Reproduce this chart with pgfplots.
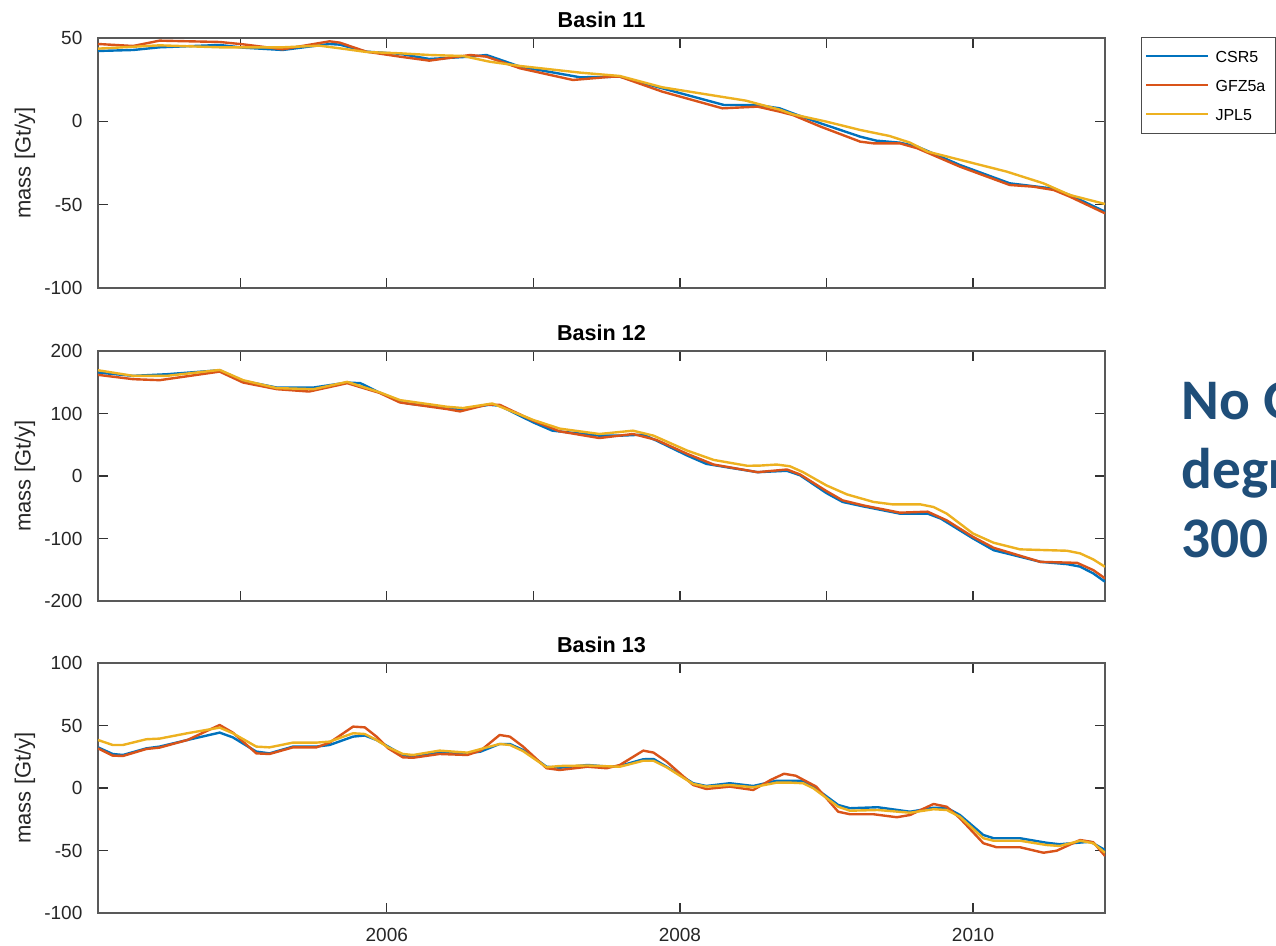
\documentclass[border=0pt]{standalone}
\usepackage{fontspec}
\setmainfont{Liberation Sans}
\newfontfamily\slidefont{Carlito}
\usepackage{pgfplots}
\pgfplotsset{compat=1.18}

\definecolor{csr}{HTML}{0072BD}
\definecolor{gfz}{HTML}{D95319}
\definecolor{jpl}{HTML}{EDB120}
\definecolor{slideblue}{HTML}{1F4E79}

\pgfplotsset{
  basin/.style={
    scale only axis, width=503.5pt, height=125pt, anchor=south west,
    xmin=2004.03, xmax=2010.90,
    axis line style={draw=black!65, line width=0.6pt},
    major tick style={draw=black!80, line width=0.6pt},
    major tick length=5pt,
    tick align=inside,
    xtick pos=both, ytick pos=both,
    every tick label/.append style={font=\fontsize{9.5}{11}\selectfont, text=black!85},
    yticklabel style={xshift=-4.3pt},
    xticklabel style={yshift=-4.3pt},
    ylabel={mass [Gt/y]},
    every axis y label/.style={at={(axis description cs:-0.0725,0.5)}, rotate=90,
      anchor=center, font=\fontsize{11}{13}\selectfont, text=black!85},
    every axis title/.style={at={(axis description cs:0.5,1)}, anchor=base, yshift=5pt,
      font=\bfseries\fontsize{10.8}{13}\selectfont},
    every axis plot/.append style={line width=1.2pt, line join=round},
  },
}

\begin{document}
\begin{tikzpicture}
\useasboundingbox (0pt,0pt) rectangle (638pt,473pt);
\clip (0pt,0pt) rectangle (638pt,473pt);

% ---------------- Basin 11 ----------------
\begin{axis}[basin, at={(49pt,329pt)},
  title={Basin 11},
  ymin=-100, ymax=50,
  ytick={-100,-50,0,50}, yticklabels={-100,-50,0,50},
  xtick={2005,2006,2007,2008,2009,2010}, xticklabel=\empty,
  legend style={at={(axis description cs:1.0357,1.004)}, anchor=north west,
    draw=black!70, line width=0.4pt, inner xsep=2pt, inner ysep=2.25pt,
    row sep=0pt, font=\fontsize{8}{9}\selectfont,
    nodes={inner xsep=3pt, inner ysep=4pt, text height=6.5pt, text depth=0pt},
    cells={anchor=west}},
  legend image code/.code={\draw[#1, line width=1.1pt] (0pt,0pt) -- (31pt,0pt);},
]
\addplot[csr] coordinates {
(2004.03,42.2) (2004.27,42.8) (2004.45,44.4) (2004.86,45.8) (2005.02,44.2)
(2005.29,42.8) (2005.61,46.4) (2005.68,46.0) (2005.86,41.8) (2006.09,40.5)
(2006.29,37.4) (2006.57,38.8) (2006.68,39.8) (2006.91,32.8) (2007.32,26.4)
(2007.59,26.8) (2007.88,19.8) (2008.30,9.8) (2008.53,9.8) (2008.68,7.8)
(2008.77,4.8) (2008.96,-1.2) (2009.23,-9.2) (2009.34,-11.6) (2009.50,-12.8)
(2009.62,-15.2) (2009.91,-26.2) (2010.25,-37.2) (2010.53,-40.2) (2010.66,-44.2)
(2010.90,-54.2)};
\addlegendentry{CSR5}
\addplot[gfz] coordinates {
(2004.03,46.4) (2004.27,45.2) (2004.45,48.4) (2004.86,47.6) (2005.02,46.2)
(2005.29,43.2) (2005.61,48.0) (2005.68,47.2) (2005.86,41.8) (2006.09,38.8)
(2006.29,36.4) (2006.57,39.8) (2006.68,38.8) (2006.91,31.8) (2007.27,24.8)
(2007.54,26.8) (2007.59,26.8) (2007.88,17.8) (2008.29,7.8) (2008.53,8.8)
(2008.68,5.8) (2008.77,3.8) (2008.96,-3.2) (2009.23,-12.2) (2009.32,-13.2)
(2009.50,-13.2) (2009.62,-16.2) (2009.91,-27.2) (2010.25,-38.2) (2010.41,-39.2)
(2010.55,-41.2) (2010.66,-45.2) (2010.90,-55.2)};
\addlegendentry{GFZ5a}
\addplot[jpl] coordinates {
(2004.03,43.6) (2004.45,45.6) (2004.86,44.4) (2005.29,44.4) (2005.54,45.4)
(2005.68,43.8) (2005.86,41.6) (2006.09,40.8) (2006.29,39.8) (2006.52,39.2)
(2006.70,35.8) (2006.91,33.2) (2007.32,29.2) (2007.59,27.2) (2007.88,20.4)
(2008.45,12.4) (2008.68,7.0) (2008.77,4.2) (2009.00,-0.2) (2009.23,-5.2)
(2009.43,-8.8) (2009.57,-12.8) (2009.69,-18.2) (2009.96,-24.2) (2010.23,-30.2)
(2010.48,-37.2) (2010.66,-44.2) (2010.90,-49.6)};
\addlegendentry{JPL5}
\end{axis}

% ---------------- Basin 12 ----------------
\begin{axis}[basin, at={(49pt,172.5pt)},
  title={Basin 12},
  ymin=-200, ymax=200,
  ytick={-200,-100,0,100,200}, yticklabels={-200,-100,0,100,200},
  xtick={2005,2006,2007,2008,2009,2010}, xticklabel=\empty,
]
\addplot[csr] coordinates {
(2004.03,165.4) (2004.27,160.2) (2004.50,162.8) (2004.86,169.2) (2005.02,152.2)
(2005.25,141.5) (2005.50,141.5) (2005.73,149.5) (2005.82,148.5) (2005.95,133.5)
(2006.09,120.3) (2006.14,116.0) (2006.41,108.7) (2006.50,107.1) (2006.70,113.9)
(2006.77,112.4) (2007.00,85.7) (2007.13,72.5) (2007.45,64.5) (2007.59,64.5)
(2007.75,66.1) (2007.84,56.6) (2008.05,32.7) (2008.18,19.4) (2008.32,14.0)
(2008.53,6.1) (2008.73,8.3) (2008.82,1.1) (2009.00,-27.4) (2009.11,-41.5)
(2009.25,-48.6) (2009.50,-60.2) (2009.69,-60.2) (2009.78,-68.2) (2010.00,-100.0)
(2010.14,-118.7) (2010.46,-137.4) (2010.64,-141.0) (2010.73,-145.0) (2010.82,-155.9)
(2010.90,-169.2)};
\addplot[gfz] coordinates {
(2004.03,161.8) (2004.27,154.9) (2004.45,153.3) (2004.86,167.0) (2005.02,149.5)
(2005.25,138.9) (2005.47,135.1) (2005.73,148.5) (2005.95,133.0) (2006.09,117.6)
(2006.41,107.1) (2006.50,103.3) (2006.68,113.9) (2006.77,113.9) (2007.00,88.4)
(2007.18,71.4) (2007.45,60.7) (2007.68,67.2) (2007.84,57.7) (2008.05,35.4)
(2008.23,18.3) (2008.53,6.1) (2008.73,10.4) (2008.82,2.4) (2009.00,-24.2)
(2009.11,-39.0) (2009.25,-47.0) (2009.50,-58.7) (2009.69,-57.1) (2009.82,-71.0)
(2010.00,-97.5) (2010.14,-114.9) (2010.46,-137.4) (2010.71,-139.0) (2010.82,-150.6)
(2010.90,-163.8)};
\addplot[jpl] coordinates {
(2004.03,169.2) (2004.27,160.2) (2004.50,160.2) (2004.86,169.7) (2005.02,153.3)
(2005.25,140.6) (2005.50,138.9) (2005.73,150.6) (2005.95,134.0) (2006.09,121.4)
(2006.41,110.8) (2006.52,108.7) (2006.72,116.0) (2007.00,89.6) (2007.18,75.8)
(2007.45,67.2) (2007.68,72.5) (2007.82,64.5) (2008.05,40.6) (2008.23,25.7)
(2008.46,16.3) (2008.55,16.7) (2008.66,18.3) (2008.75,15.6) (2008.84,6.1)
(2009.00,-15.1) (2009.14,-29.5) (2009.32,-41.5) (2009.45,-45.4) (2009.64,-45.4)
(2009.73,-49.6) (2009.82,-60.2) (2010.00,-92.1) (2010.14,-106.8) (2010.32,-117.4)
(2010.64,-119.6) (2010.73,-123.8) (2010.82,-133.5) (2010.90,-145.3)};
\end{axis}

% ---------------- Basin 13 ----------------
\begin{axis}[basin, at={(49pt,16.5pt)},
  title={Basin 13},
  ymin=-100, ymax=100,
  ytick={-100,-50,0,50,100}, yticklabels={-100,-50,0,50,100},
  xtick={2006,2008,2010}, xticklabels={2006,2008,2010},
]
\addplot[csr] coordinates {
(2004.03,32.5) (2004.13,27.2) (2004.20,26.4) (2004.36,31.7) (2004.45,33.1)
(2004.64,38.4) (2004.86,44.3) (2004.95,40.5) (2005.11,29.1) (2005.20,27.7)
(2005.36,33.1) (2005.52,33.1) (2005.61,34.4) (2005.77,41.1) (2005.85,42.0)
(2005.93,38.4) (2006.01,33.1) (2006.11,26.4) (2006.18,25.0) (2006.36,28.3)
(2006.55,27.7) (2006.64,29.1) (2006.77,35.2) (2006.84,35.2) (2006.93,30.4)
(2007.09,17.0) (2007.18,16.2) (2007.37,18.4) (2007.52,17.0) (2007.59,17.6)
(2007.75,23.0) (2007.82,23.2) (2007.91,17.0) (2008.09,3.8) (2008.18,1.6)
(2008.34,3.8) (2008.50,1.6) (2008.66,5.8) (2008.84,5.8) (2008.91,1.1)
(2009.08,-13.6) (2009.16,-16.2) (2009.35,-15.4) (2009.57,-19.0) (2009.73,-15.8)
(2009.82,-15.8) (2009.91,-21.6) (2010.07,-37.6) (2010.14,-40.2) (2010.32,-40.2)
(2010.50,-43.8) (2010.59,-45.0) (2010.80,-43.0) (2010.90,-49.6)};
\addplot[gfz] coordinates {
(2004.03,31.7) (2004.13,25.9) (2004.20,25.6) (2004.36,31.2) (2004.45,32.3)
(2004.64,38.4) (2004.86,50.4) (2004.95,44.3) (2005.11,27.7) (2005.20,27.2)
(2005.36,32.5) (2005.52,32.5) (2005.61,36.3) (2005.77,49.1) (2005.85,48.5)
(2005.93,41.1) (2006.01,31.7) (2006.11,24.5) (2006.18,24.2) (2006.36,27.2)
(2006.55,26.4) (2006.64,29.9) (2006.77,42.4) (2006.84,41.1) (2006.93,33.1)
(2007.09,15.8) (2007.18,14.4) (2007.37,17.0) (2007.50,15.8) (2007.59,18.4)
(2007.75,29.9) (2007.82,28.3) (2007.91,21.0) (2008.09,2.4) (2008.18,-0.8)
(2008.34,1.1) (2008.50,-1.6) (2008.62,6.5) (2008.71,11.4) (2008.79,9.8)
(2008.93,1.1) (2009.08,-19.0) (2009.16,-21.0) (2009.32,-21.0) (2009.48,-23.4)
(2009.57,-21.6) (2009.73,-12.8) (2009.82,-15.0) (2009.91,-24.2) (2010.07,-44.2)
(2010.16,-47.4) (2010.32,-47.4) (2010.48,-51.8) (2010.57,-50.2) (2010.73,-41.6)
(2010.82,-43.4) (2010.90,-54.4)};
\addplot[jpl] coordinates {
(2004.03,38.4) (2004.13,34.4) (2004.20,34.4) (2004.36,39.0) (2004.45,39.5)
(2004.64,43.8) (2004.86,48.3) (2004.95,43.8) (2005.11,33.1) (2005.20,32.5)
(2005.36,36.3) (2005.52,36.3) (2005.61,37.1) (2005.77,43.8) (2005.85,43.2)
(2005.93,38.4) (2006.01,32.5) (2006.11,27.2) (2006.18,26.4) (2006.36,29.9)
(2006.55,28.3) (2006.77,35.2) (2006.84,34.4) (2006.93,29.5) (2007.09,16.6)
(2007.18,17.6) (2007.37,18.0) (2007.59,17.0) (2007.75,21.8) (2007.82,21.8)
(2007.91,16.5) (2008.09,3.2) (2008.18,1.1) (2008.34,2.4) (2008.50,0.6)
(2008.66,4.3) (2008.75,4.3) (2008.84,3.8) (2008.91,-0.2) (2009.08,-15.0)
(2009.16,-18.2) (2009.35,-17.6) (2009.57,-19.8) (2009.73,-17.0) (2009.82,-17.6)
(2009.91,-23.0) (2010.07,-40.2) (2010.14,-42.2) (2010.32,-42.2) (2010.50,-45.6)
(2010.59,-46.4) (2010.73,-42.2) (2010.82,-44.2) (2010.90,-51.8)};
\end{axis}

% slide caption running off the right edge (base = last line)
\node[anchor=base west, inner sep=0pt, align=left, text=slideblue,
  font=\slidefont\bfseries\fontsize{28.7}{34.5}\selectfont]
  at (590.5pt,194pt) {No GIA\\degree\\300 km};
\end{tikzpicture}
\end{document}
